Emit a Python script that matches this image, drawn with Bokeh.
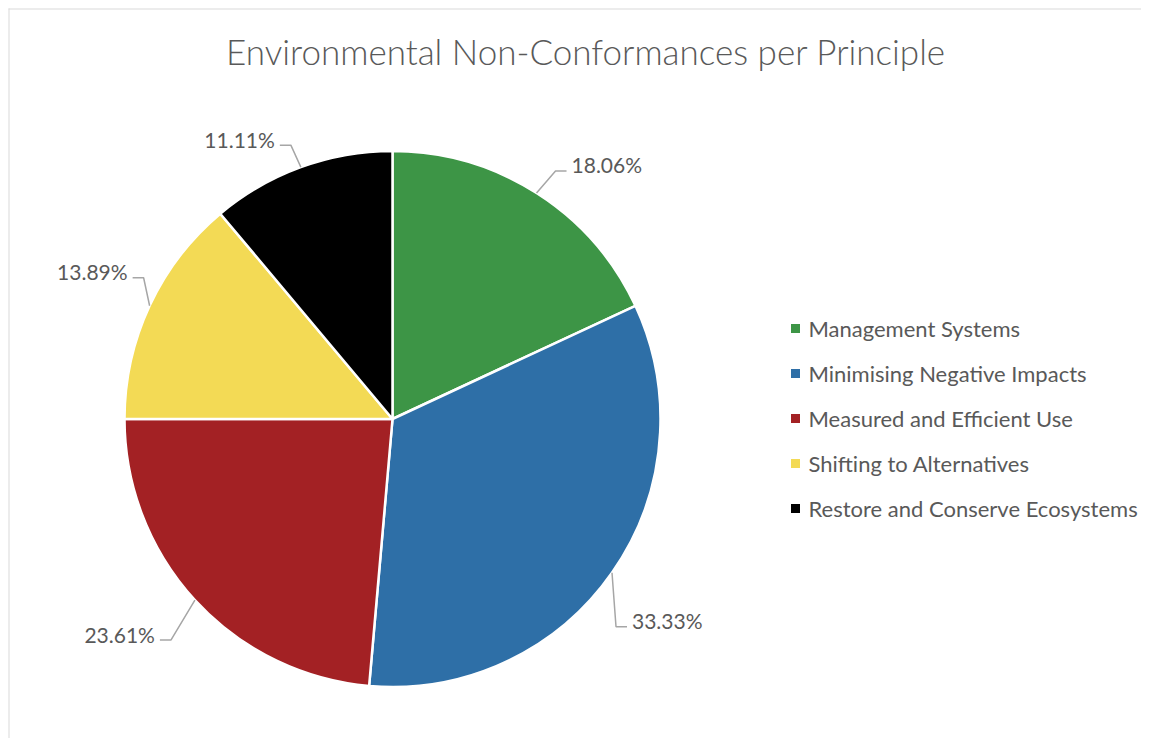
import math
from bokeh.plotting import figure
from bokeh.models import Range1d, ColumnDataSource
from bokeh.core.properties import value
from bokeh.embed import file_html
from bokeh.resources import INLINE

# ---- data ----
categories = ["Management Systems", "Minimising Negative Impacts",
              "Measured and Efficient Use", "Shifting to Alternatives",
              "Restore and Conserve Ecosystems"]
percentages = [18.06, 33.33, 23.61, 13.89, 11.11]
slice_colors = ["#3D9546", "#2E6FA7", "#A32124", "#F3DA55", "#000000"]
title_text = "Environmental Non-Conformances per Principle"

# ---- layout (pixel space of the figure, y measured from top) ----
W, H = 1141, 738

def sy(y):  # top-down pixel y -> data y
    return H - y

cx, cy, R = 392, 418.5, 268
# leader elbow offsets from slice edge point (dx, dy in px)
elbow_offsets = [(19, -22), (4, 54), (-24, 40), (-6, -28), (-10, -22)]
seg_len = 11
text_gap = 5
FONT = "Lato"
TITLE_FONT = "'Lato Light', Lato"
TEXT_COLOR = "#595959"

p = figure(width=W, height=H, output_backend="svg", toolbar_location=None,
           x_range=Range1d(0, W), y_range=Range1d(0, H),
           x_axis_location=None, y_axis_location=None, min_border=0,
           background_fill_color="white", border_fill_color="white")
p.grid.visible = False
p.outline_line_color = None

# chart area border (left & top visible in reference)
p.segment(x0=[8.5, 8], y0=[0, sy(8.5)], x1=[8.5, W], y1=[sy(8), sy(8.5)],
          line_color="#D9D9D9", line_width=1)

# title
p.text(x=[585.5], y=[sy(50)], text=[title_text],
       text_font=value(TITLE_FONT), text_font_size="35px", text_color=TEXT_COLOR,
       text_align="center", text_baseline="middle")

# wedges
total = sum(percentages)
starts, ends, mids = [], [], []
cum = 0.0
for v in percentages:
    f0 = cum / total
    cum += v
    f1 = cum / total
    starts.append(math.pi / 2 - 2 * math.pi * f0)
    ends.append(math.pi / 2 - 2 * math.pi * f1)
    mids.append(math.pi / 2 - 2 * math.pi * (f0 + f1) / 2)

src = ColumnDataSource(dict(start=starts, end=ends, color=slice_colors))
p.wedge(x=cx, y=sy(cy), radius=R, start_angle="start", end_angle="end",
        direction="clock", fill_color="color", line_color="white",
        line_width=2.5, source=src)

# data labels with leader lines
for v, a, (odx, ody) in zip(percentages, mids, elbow_offsets):
    ex = cx + R * math.cos(a)
    ey = cy - R * math.sin(a)
    bx, by = ex + odx, ey + ody
    right = math.cos(a) > 0
    hx = bx + seg_len if right else bx - seg_len
    p.line(x=[ex, bx, hx], y=[sy(ey), sy(by), sy(by)], line_color="#A6A6A6",
           line_width=1.5)
    tx = hx + text_gap if right else hx - text_gap
    p.text(x=[tx], y=[sy(by - 6)], text=[f"{v:.2f}%"], text_font=value(FONT),
           text_font_size="21px", text_color=TEXT_COLOR,
           text_align="left" if right else "right", text_baseline="middle")

# legend
leg_x, leg_y0, leg_dy = 795, 328, 45
leg_ys = [sy(leg_y0 + i * leg_dy) for i in range(len(categories))]
p.scatter(x=[leg_x] * len(categories), y=leg_ys, marker="square", size=9,
          fill_color=slice_colors, line_color=None)
p.text(x=[leg_x + 13] * len(categories), y=leg_ys, text=categories,
       text_font=value(FONT), text_font_size="22px", text_color=TEXT_COLOR,
       text_align="left", text_baseline="middle")

open("out.html", "w").write(file_html(p, INLINE))
